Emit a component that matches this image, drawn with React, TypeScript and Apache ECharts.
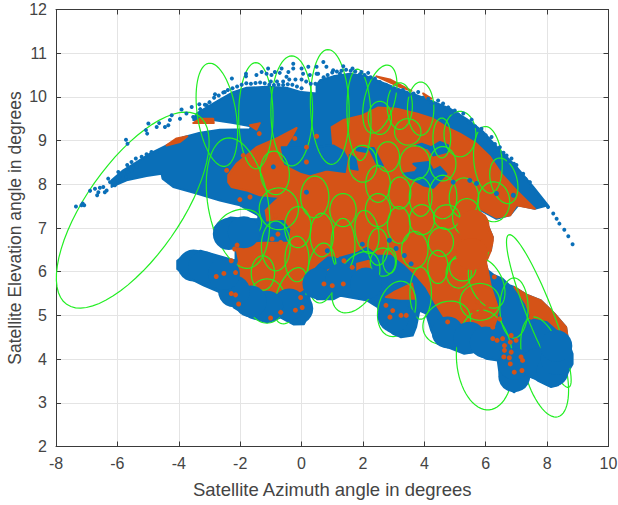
import React, { useEffect, useRef } from "react";
import * as echarts from "echarts";

const xTicks = { min: -8, max: 10, step: 2 };
const yTicks = { min: 2, max: 12, step: 1 };
const xTitle = "Satellite Azimuth angle in degrees";
const yTitle = "Satellite Elevation angle in degrees";

type P = number[];

const blueMain: P[] = [[-3.42,9.62],[-3.09,9.76],[-2.66,9.94],[-2.23,10.11],[-1.79,10.21],[-1.14,10.23],[-.49,10.21],[0,10.11],[.49,10.08],[.49,10.27],[.6,10.38],[1.03,10.47],[1.57,10.53],[2.12,10.47],[2.66,10.32],[3.2,10.17],[3.75,10.04],[4.29,9.89],[4.83,9.73],[5.37,9.5],[5.92,9.2],[6.46,8.78],[7,8.4],[7.55,7.94],[8.03,7.52],[7.6,7.44],[7.06,7.52],[6.79,7.29],[6.35,7.21],[5.86,7.4],[5.65,7.63],[5.85,7.25],[6,7.18],[6.23,6.79],[6.17,6.49],[5.96,6.27],[6.07,6.03],[6.28,5.92],[6.55,5.84],[6.77,5.69],[6.93,5.65],[7.37,5.46],[7.8,5.34],[8.24,5.04],[8.62,4.73],[8.69,4.39],[8.83,4.12],[8.83,3.89],[8.62,3.63],[8.35,3.4],[8.13,3.36],[7.69,3.51],[7.37,3.66],[7.26,3.44],[6.93,3.24],[6.66,3.36],[6.45,3.66],[6.39,3.97],[6.01,4.01],[5.63,4.16],[5.3,4.12],[4.87,4.24],[4.44,4.35],[4.22,4.66],[4.06,5.04],[3.84,5.11],[3.73,4.73],[3.62,4.54],[3.24,4.5],[2.81,4.66],[2.59,4.96],[2.48,5.19],[2.14,5.34],[1.27,5.45],[1.05,5.37],[.51,5.37],[.24,5.56],[.29,5.11],[.08,4.8],[-.25,4.79],[-.68,4.95],[-1.12,4.84],[-1.66,4.95],[-2.2,5.18],[-2.53,5.49],[-3.18,5.68],[-3.72,5.87],[-4.05,6.06],[-4.05,6.25],[-3.78,6.4],[-3.29,6.48],[-2.75,6.37],[-2.15,6.25],[-2.15,6.6],[-2.58,6.75],[-2.86,6.98],[-2.69,7.13],[-2.31,7.24],[-1.88,7.21],[-1.41,7.2],[-1.41,7.29],[-2.01,7.52],[-2.66,7.63],[-3.42,7.79],[-4.18,7.94],[-4.53,8.13],[-4.56,8.24],[-5.05,8.19],[-5.7,8.09],[-6.19,7.94],[-6.19,8.09],[-5.81,8.32],[-5.37,8.51],[-4.94,8.7],[-4.4,8.89],[-3.85,9.08],[-3.31,9.18],[-2.66,9.25],[-1.68,9.26],[-1.66,9.33],[-2.23,9.4],[-2.88,9.47],[-3.53,9.47]];

const blueBlobs: P[] = [[3.24,4.87],[3.0,4.98],[4.76,4.61],[5.47,4.49],[6,4.38],[6.93,3.61],[6.93,3.89],[7.69,3.89],[8.18,3.73],[8.31,4],[8.3,4.3],[-.14,5.16],[-.4,5.25],[-1.12,5.2],[-1.66,5.32],[-2.2,5.55],[-3.52,6.14],[-3.18,6.1],[-2.53,5.95],[-2.37,6.86],[-1.88,6.9],[.55,5.73],[1.3,5.83],[2.1,5.73]];

const orangeBlobs: P[] = [[5.74,6.72],[5.6,7.05],[5.55,6.4]];

const orangeMain: P[] = [[-2.39,8.21],[-2.12,8.47],[-1.47,8.85],[-.76,9.07],[-.16,9.29],[-.33,9.07],[-.6,8.78],[.05,8.7],[1.03,8.89],[.98,9.31],[1.36,9.47],[2,9.58],[2.5,9.76],[3.1,9.73],[3.75,9.62],[4.29,9.5],[4.72,9.31],[5.16,9.16],[5.7,8.93],[6.14,8.63],[6.51,8.24],[7,7.86],[7.6,7.44],[7,7.52],[6.8,7.29],[6.35,7.24],[5.82,7.44],[5.65,7.63],[5.85,7.25],[6,7.18],[6.23,6.79],[6.17,6.49],[6.01,6.22],[6.17,5.65],[6.41,5.15],[6.34,4.89],[6.17,4.54],[5.79,4.39],[5.41,4.5],[5.03,4.73],[4.65,4.96],[4.33,5.31],[4.06,5.65],[3.73,5.92],[3.35,6.18],[2.92,6.41],[2.48,6.41],[2.14,6.6],[1.81,6.48],[1.27,6.37],[.84,6.37],[.51,6.18],[.24,5.98],[.13,5.64],[-.25,5.45],[-.9,5.34],[-1.34,5.15],[-1.77,5.34],[-2.15,5.49],[-2.2,5.79],[-2.04,6.25],[-2.15,6.63],[-1.23,6.66],[-.41,6.67],[-.33,6.98],[-.58,7.21],[-1.12,7.17],[-1.17,7.4],[-.9,7.59],[-.71,7.71],[-1.36,7.75],[-1.79,7.86],[-2.28,7.94],[-2.39,8.05]];

const orangeRim: P[] = [[6.93,5.65],[7.37,5.46],[7.8,5.34],[8.24,5.04],[8.62,4.73],[8.69,4.39],[8.45,4.62],[8.02,4.89],[7.48,4.96],[7.31,5.27]];
const orangeStreakA: P[] = [[-4.4,8.89],[-4.07,9.05],[-3.72,9.1],[-3.96,8.97]];
const orangeStreakB: P[] = [[-3.53,9.4],[-3.31,9.5],[-2.88,9.5],[-2.86,9.4]];
const orangeStreakC: P[] = [[-1.68,9.35],[-1.36,9.4],[-1.47,9.25]];
const orangeStreakD: P[] = [[2.44,10.47],[2.88,10.4],[3.58,10.14],[3.2,10.23]];
const orangeStreakE: P[] = [[3.96,10.08],[4.23,9.96],[4.08,9.96]];
const orangeBlotchA: P[] = [[3,5.53],[3.6,5.73],[3.7,5.38],[3.23,5.38],[2.75,5.42]];
const orangeBlotchB: P[] = [[1.81,6.18],[2.19,6.25],[2.3,5.79],[2.03,5.66],[1.83,5.79]];
const orangeBlotchC: P[] = [[.29,5.83],[.94,6.06],[1.05,5.95],[.51,5.76]];

const blueRiver: P[] = [[-.65,8.85],[0,8.85],[1.03,8.89],[1.36,8.76],[1.48,8.6],[1.41,8.28],[.81,8.34],[.27,8.23],[0,8.28],[-.54,8.47]];
const blueStreakA: P[] = [[1.8,8.85],[2.16,8.8],[2.1,8.74],[1.8,8.78]];
const blueStreakB: P[] = [[2.2,8.83],[2.35,8.83],[2.65,8.42],[2.5,8.4]];
const blueStreakC: P[] = [[1.57,8.67],[1.75,8.6],[1.83,8.33],[1.6,8.36]];
const bluePatchA: P[] = [[3.75,8.89],[4.13,8.82],[4.29,8.66],[4.72,8.74],[4.78,8.89],[4.51,8.97],[4.23,8.85],[3.91,8.93]];
const bluePatchB: P[] = [[3.64,8.47],[4.13,8.51],[4.29,8.32],[4.51,8.4],[4.72,8.24],[4.29,7.92],[3.96,7.98],[3.31,8.24],[3.69,8.28],[3.8,8.38]];

const blueDots: P[] = [[-7.35,7.49],[-7.13,7.56],[-7.17,7.52],[-7.08,7.52],[-6.89,7.85],[-6.73,7.9],[-6.62,7.82],[-6.66,7.75],[-6.57,7.92],[-6.46,7.94],[-6.3,8.13],[-6.35,7.86],[-6.41,7.82],[-6.24,8.05],[-5.97,8.28],[-5.94,8.17],[-6,8.09],[-6.08,7.98],[-5.68,8.44],[-5.68,8.28],[-5.72,8.17],[-5.54,8.51],[-5.54,8.32],[-5.4,8.59],[-5.37,8.4],[-5.21,8.63],[-5.05,8.69],[-4.89,8.74],[-4.72,8.74],[-5.72,9.02],[-5.67,8.93],[-4.99,9.39],[-5.07,9.24],[-5.03,9.16],[-4.72,9.31],[-4.64,9.4],[-4.45,9.31],[-4.29,9.47],[-4.23,9.58],[-4.34,9.35],[-3.91,9.71],[-3.96,9.5],[-3.75,9.62],[-3.58,9.77],[-3.53,9.54],[-3.33,9.83],[-3.26,9.66],[-3.09,9.81],[-2.82,10.06],[-2.5,10.11],[-2.27,10.42],[-1.81,10.53],[-1.81,10.47],[-1.47,10.5],[-1.3,10.57],[-1.09,10.65],[-1.14,10.53],[-.87,10.57],[-.98,10.5],[-.65,10.65],[-.71,10.55],[-.43,10.57],[-.27,10.76],[-.27,10.65],[-.49,10.46],[0,10.65],[.05,10.53],[.22,10.69],[.27,10.5],[.49,10.69],[.54,10.53],[-1,10.35],[-.8,10.35],[-.6,10.35],[-.4,10.4],[-.2,10.4],[0,10.4],[.15,10.35],[.3,10.3],[.45,10.3],[.71,10.8],[.49,10.53],[.81,10.69],[1.03,10.61],[1.25,10.53],[1.36,10.7],[1.66,10.65],[1.95,10.57],[2.17,10.55],[2.39,10.42],[2.55,10.34],[2.82,10.23],[3.09,10.15],[3.42,10.08],[3.8,10.11],[3.8,9.96],[4.13,9.96],[4.45,9.92],[4.61,9.85],[4.78,9.76],[4.99,9.69],[5.27,9.62],[5.54,9.48],[5.86,9.27],[6.19,9.08],[6.46,8.85],[6.68,8.66],[6.84,8.59],[7,8.44],[7.22,8.24],[7.44,8.05],[7.65,7.79],[7.87,7.6],[8.03,7.48],[8.2,7.33],[8.31,7.21],[8.4,7.1],[8.56,6.96],[8.69,6.81],[8.83,6.63]];

const blueEdgeDots: P[] = [[-3.3,9.72],[-3.15,9.82],[-3,9.88],[-2.85,9.98],[-2.7,10.03],[-2.55,10.1],[-2.4,10.16],[-2.25,10.2],[-2.1,10.24],[-1.95,10.28],[-1.8,10.31],[-1.65,10.3],[-1.5,10.32],[-1.35,10.33],[-1.2,10.31],[-1.05,10.28],[-.9,10.27],[-.75,10.28],[-.6,10.27],[-.45,10.29],[-.3,10.28],[-.15,10.24],[0,10.2],[.72,10.45],[.85,10.5],[1,10.56],[1.15,10.58],[1.3,10.6],[1.45,10.62],[1.6,10.6],[1.75,10.58],[1.9,10.52],[2.05,10.5],[2.25,10.45],[2.4,10.36],[2.6,10.3],[2.75,10.28],[2.95,10.18],[3.15,10.12],[3.3,10.16],[3.5,10.05],[3.65,10.08],[3.95,9.98],[4.25,9.85],[4.55,9.78],[4.7,9.72],[4.9,9.64],[5.1,9.6],[5.2,9.52],[5.45,9.42],[5.65,9.33],[5.75,9.24],[6,9.12],[6.1,9.03],[6.3,8.92],[6.38,8.78],[6.58,8.72],[6.75,8.52],[6.92,8.47],[7.08,8.27],[7.3,8.12],[7.5,7.92],[7.75,7.68]];

const blueSpecks: P[] = [[.84,6.48],[1.98,6.63],[.16,7.82],[-.92,8.4],[2.86,6.72],[3.08,6.53],[3.35,6.37],[3.57,6.18],[5.48,8.09],[5.7,8.02],[6.35,7.79],[6.9,7.75],[4.94,8.05]];

const orangeDots: P[] = [[-2.78,5.89],[-2.53,5.96],[-2.15,5.98],[-2.29,6.25],[-2.18,6.52],[-2.1,6.61],[-2.29,5.5],[-2.15,5.47],[-2.05,5.26],[-.96,6.75],[-.77,6.86],[-.68,6.67],[-.85,7.28],[-1.01,4.94],[-.68,5.07],[-.2,5.12],[-.03,5.41],[.02,5.18],[.73,5.72],[1,5.68],[1.36,5.72],[1.38,6.25],[1.65,6.1],[1.16,6.37],[-2.44,8.32],[-2.01,7.65],[-1.68,7.71],[-1.9,8.66],[-1.38,9.16],[-.22,9.05],[.16,8.85],[.16,8.51],[.49,9.1],[2.75,5.23],[2.97,5.11],[2.88,4.96],[3.24,5],[3.41,5],[6.23,4.47],[6.37,4.43],[6.55,4.47],[6.8,4.39],[6.99,4.43],[6.61,4.31],[6.61,4.2],[6.83,4.16],[6.59,4.05],[6.77,4.03],[6.8,3.89],[7.15,4.05],[7.2,3.97],[6.93,3.7],[7.18,3.74],[6.83,4.54],[6.23,4.73],[6.45,4.92],[6.28,5.88],[4.76,4.85],[5.63,5.08],[5.85,5.11],[6.07,5.23],[5.74,5.31],[7.48,4.96]];

// centre azimuth, centre elevation, long semi-axis, short semi-axis (both in azimuth degrees), tilt
const beams: number[][] = [[-5.5,7.41,3.75,1.53,-55],[-2.07,7.57,2.15,.98,80],[-2.76,9.59,1.7,.63,81],[-1.49,9.57,1.73,.56,90],[-.32,9.68,1.79,.68,90],[.92,9.77,1.87,.63,88],[1.87,9.59,1.49,.39,88],[2.55,9.95,1.14,.49,105],[3.2,9.79,.76,.41,90],[3.88,9.73,.87,.43,90],[4.57,9.06,.65,.29,90],[5.16,9.15,.74,.52,90],[6.07,8.56,1.09,.46,85],[6.59,8.08,.76,.43,75],[6.26,7.6,.65,.52,90],[-.87,8.26,.71,.47,85],[-.74,7.44,.68,.64,90],[-2.04,7.03,.76,.54,160],[-.84,6.59,.81,.47,90],[.43,7.71,.68,.46,90],[-.12,7.02,.67,.43,90],[.66,6.84,.71,.38,90],[1.35,6.61,.87,.39,90],[1.35,7.41,.54,.43,90],[2,8.47,.6,.46,90],[2.81,8.63,.49,.38,90],[3.69,8.49,.56,.49,90],[4.6,8.47,.56,.43,90],[3.46,9.2,.43,.43,0],[2.55,9.52,.54,.38,90],[2.49,8.01,.6,.4,90],[3.2,7.8,.52,.36,90],[3.88,7.71,.63,.37,90],[4.6,7.71,.71,.46,90],[5.29,7.69,.65,.48,90],[2.49,7.41,.54,.41,90],[3.17,7.07,.6,.37,90],[3.92,7.19,.49,.41,90],[4.73,7.25,.43,.4,0],[5.38,7.25,.6,.46,90],[2.13,6.91,.71,.38,80],[3.69,6.5,.6,.43,90],[4.54,6.68,.47,.41,90],[5.74,6.68,.63,.36,80],[2.87,6.25,.41,.22,90],[4.44,6.11,.54,.33,90],[5.25,6.09,.43,.43,0],[1.77,5.76,1.09,.65,120],[3.1,5.15,.92,.6,105],[3.88,5.51,.85,.35,90],[4.73,4.83,.81,.67,150],[5.97,3.98,1.63,.92,85],[5.81,5.31,.65,.6,0],[6.92,5.17,.98,.46,90],[6.03,5.74,.87,.52,65],[7.73,5.1,2.67,.42,68.5],[7.92,3.82,1.68,.67,75],[2.65,6.22,.46,.41,90],[5.12,5.97,.49,.41,90],[-1.26,5.97,.56,.38,90],[-.15,6.29,.74,.39,90],[-.35,5.45,.96,.46,110],[-1.13,5.33,.72,.61,90],[.66,5.97,.98,.46,95],[2.49,6.57,.6,.33,90]];

const BLUE = "#0A6FB8";
const ORANGE = "#D55317";
const GREEN = "#22EE22";
const AXIS = "#3A3A3A";
const TEXT = "#444444";
const FONT = "'Liberation Sans', Arial, sans-serif";

function regionSeries(regions: P[][], color: string) {
  return {
    type: "custom",
    silent: true,
    coordinateSystem: "cartesian2d",
    data: regions.map((_, i) => [i]),
    renderItem: (params: any, api: any) => {
      const r = regions[api.value(0)];
      return {
        type: "polygon",
        shape: { points: r.map((p) => api.coord(p)) },
        style: { fill: color, stroke: color, lineWidth: 2, lineJoin: "round" },
      };
    },
  };
}

function dotSeries(points: P[], color: string, size: number) {
  return {
    type: "scatter",
    silent: true,
    data: points,
    symbol: "circle",
    symbolSize: size,
    itemStyle: { color, opacity: 1 },
  };
}

function beamSeries() {
  return {
    type: "custom",
    silent: true,
    coordinateSystem: "cartesian2d",
    clip: false,
    data: beams,
    dimensions: ["x", "y", "a", "b", "t"],
    encode: { x: 0, y: 1 },
    renderItem: (params: any, api: any) => {
      const c = api.coord([api.value(0), api.value(1)]);
      const u = api.size([1, 1])[0];
      const a = api.value(2) * u;
      const b = api.value(3) * u;
      const t = (api.value(4) * Math.PI) / 180;
      const pts: number[][] = [];
      for (let k = 0; k < 64; k++) {
        const th = (k / 64) * Math.PI * 2;
        const ex = a * Math.cos(th);
        const ey = b * Math.sin(th);
        pts.push([c[0] + ex * Math.cos(t) - ey * Math.sin(t), c[1] + ex * Math.sin(t) + ey * Math.cos(t)]);
      }
      return {
        type: "polygon",
        shape: { points: pts },
        style: { fill: "none", stroke: GREEN, lineWidth: 1.2 },
      };
    },
  };
}

function axisBase(range: { min: number; max: number; step: number }) {
  return { type: "value", min: range.min, max: range.max, interval: range.step };
}

export default function App() {
  const ref = useRef<HTMLDivElement>(null);
  useEffect(() => {
    document.body.style.margin = "0";
    const chart = echarts.init(ref.current!, undefined, { renderer: "svg" });
    const line = { show: true, onZero: false, lineStyle: { color: AXIS, width: 1 } };
    const tick = { show: true, inside: true, length: 5, lineStyle: { color: AXIS } };
    const grid = { show: true, lineStyle: { color: "#E4E4E4", width: 1 } };
    chart.setOption({
      animation: false,
      backgroundColor: "#fff",
      grid: { left: 56, right: 9.5, top: 9.5, bottom: 58.5, outerBoundsMode: "none" },
      xAxis: [
        {
          ...axisBase(xTicks),
          position: "bottom",
          name: xTitle,
          nameLocation: "middle",
          nameGap: 33,
          nameMoveOverlap: false,
          nameTextStyle: { color: TEXT, fontSize: 18.5, fontFamily: FONT },
          axisLabel: { color: TEXT, fontSize: 16, fontFamily: FONT, margin: 9 },
          axisLine: line,
          axisTick: tick,
          splitLine: grid,
        },
        { ...axisBase(xTicks), position: "top", axisLabel: { show: false }, axisLine: line, axisTick: tick, splitLine: { show: false } },
      ],
      yAxis: [
        {
          ...axisBase(yTicks),
          position: "left",
          name: yTitle,
          nameLocation: "middle",
          nameGap: 32,
          nameMoveOverlap: false,
          nameTextStyle: { color: TEXT, fontSize: 17.5, fontFamily: FONT },
          axisLabel: { color: TEXT, fontSize: 16, fontFamily: FONT, margin: 9 },
          axisLine: line,
          axisTick: tick,
          splitLine: grid,
        },
        { ...axisBase(yTicks), position: "right", axisLabel: { show: false }, axisLine: line, axisTick: tick, splitLine: { show: false } },
      ],
      series: [
        regionSeries([blueMain], BLUE),
        dotSeries(blueBlobs, BLUE, 32),
        dotSeries(blueDots, BLUE, 4),
        dotSeries(blueEdgeDots, BLUE, 4),
        regionSeries([orangeMain, orangeRim, orangeStreakA, orangeStreakB, orangeStreakC, orangeStreakD, orangeStreakE, orangeBlotchA, orangeBlotchB, orangeBlotchC], ORANGE),
        dotSeries(orangeBlobs, ORANGE, 32),
        regionSeries([blueRiver, blueStreakA, blueStreakB, blueStreakC, bluePatchA, bluePatchB], BLUE),
        dotSeries(orangeDots, ORANGE, 5),
        dotSeries(blueSpecks, BLUE, 5),
        beamSeries(),
      ],
    });
    return () => chart.dispose();
  }, []);
  return <div ref={ref} style={{ position: "absolute", left: 0, top: 0, width: 618, height: 505 }} />;
}
